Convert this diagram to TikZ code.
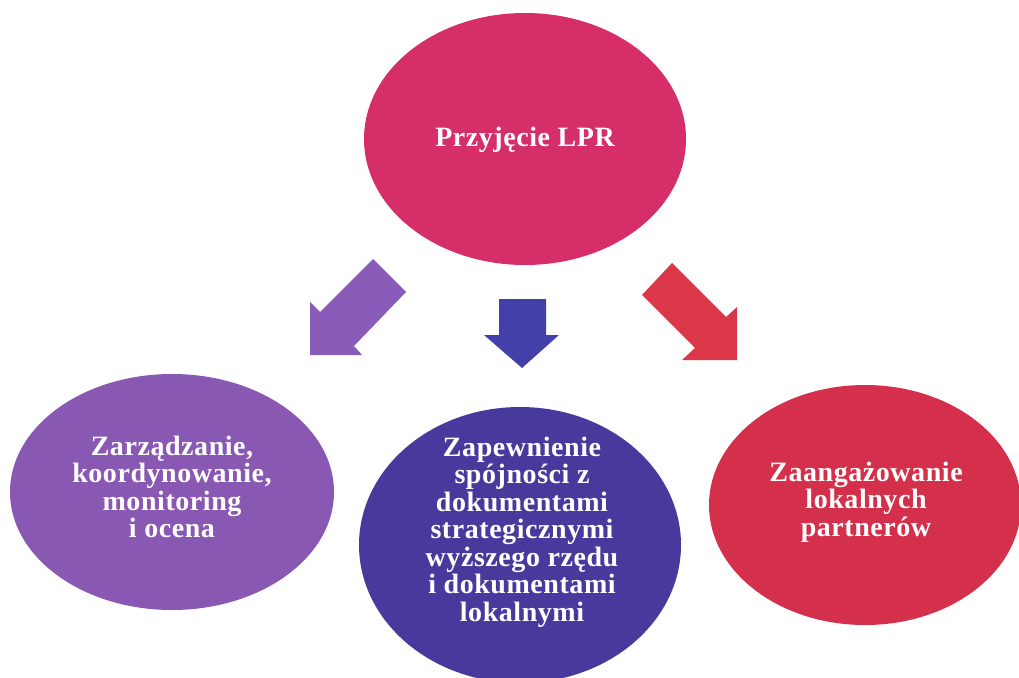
\documentclass[tikz,border=0pt]{standalone}
\usepackage{fontspec}
\setmainfont{Liberation Serif}[LetterSpace=2]
\usetikzlibrary{shapes.geometric}
\definecolor{topc}{RGB}{214,46,104}
\definecolor{leftc}{RGB}{137,88,178}
\definecolor{midc}{RGB}{72,58,156}
\definecolor{rightc}{RGB}{212,48,75}
\definecolor{arrl}{RGB}{138,92,185}
\definecolor{arrm}{RGB}{68,64,170}
\definecolor{arrr}{RGB}{218,55,72}
\tikzset{
  bubble/.style={ellipse, inner sep=0pt, text=white, align=center,
    font=\bfseries\fontsize{28}{27.5}\selectfont}
}
\begin{document}
\begin{tikzpicture}[x=1pt,y=-1pt]
\useasboundingbox (0,0) rectangle (1019,677);
\fill[white] (0,0) rectangle (1019,677);
% ellipses
\fill[topc] (525,139) ellipse [x radius=161, y radius=126];
\node[bubble] (top) at (525,140) {Przyjęcie LPR};
\fill[leftc] (172,492) ellipse [x radius=162, y radius=118];
\node[bubble] (left) at (172,487) {Zarządzanie,\\koordynowanie,\\monitoring\\i ocena};
\fill[midc] (520,545) ellipse [x radius=161, y radius=138];
\node[bubble] (mid) at (522,532) {Zapewnienie\\spójności z\\dokumentami\\strategicznymi\\wyższego rzędu\\i dokumentami\\lokalnymi};
\fill[rightc] (865,505) ellipse [x radius=156, y radius=120];
\node[bubble] (right) at (866,502) {Zaangażowanie\\lokalnych\\partnerów};
% block arrows
\fill[arrl] (373,259) -- (406,292) -- (354,346) -- (362,355) -- (310,355) -- (310,302) -- (320,312) -- cycle;
\fill[arrm] (499,299) -- (546,299) -- (546,335) -- (559,335) -- (522,368) -- (484,335) -- (499,335) -- cycle;
\fill[arrr] (672,263) -- (726,317) -- (737,307) -- (737,360) -- (682,360) -- (695,348) -- (642,295) -- cycle;
\end{tikzpicture}
\end{document}
